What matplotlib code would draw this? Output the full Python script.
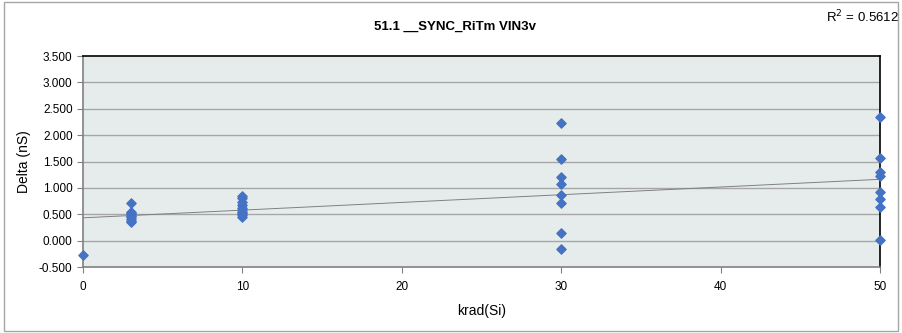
import numpy as np
from matplotlib import pyplot as plt

# krad(Si) dose levels and measured delta (nS)
x_0 = [0]
y_0 = [-0.27]
x_3 = [3] * 9
y_3 = [0.72, 0.55, 0.52, 0.50, 0.47, 0.45, 0.42, 0.38, 0.35]
x_10 = [10] * 10
y_10 = [0.85, 0.80, 0.74, 0.68, 0.62, 0.58, 0.55, 0.52, 0.48, 0.44]
x_30 = [30] * 8
y_30 = [2.23, 1.54, 1.21, 1.08, 0.87, 0.71, 0.15, -0.16]
x_50 = [50] * 8
y_50 = [2.35, 1.57, 1.30, 1.23, 0.93, 0.79, 0.63, 0.01]

y_ticks = [-0.5, 0.0, 0.5, 1.0, 1.5, 2.0, 2.5, 3.0, 3.5]
x_ticks = [0, 10, 20, 30, 40, 50]

title = "51.1 __SYNC_RiTm VIN3v"
r2_text = "R$^2$ = 0.5612"


def main():
    plt.rcParams['font.family'] = ['Liberation Sans', 'DejaVu Sans']
    xs = np.array(x_0 + x_3 + x_10 + x_30 + x_50, dtype=float)
    ys = np.array(y_0 + y_3 + y_10 + y_30 + y_50)

    fig = plt.figure(figsize=(9.03, 3.33), dpi=100)
    ax = fig.add_axes([0.0919, 0.198, 0.9745 - 0.0919, 0.8318 - 0.198])
    ax.set_facecolor('#E6ECEC')

    # outer chart border
    fig.patches.append(plt.Rectangle((0.004, 0.006), 0.99, 0.988, transform=fig.transFigure,
                                     fill=False, edgecolor='#A6A6A6', linewidth=1))

    for v in y_ticks[1:-1]:
        ax.axhline(v, color='#A6A6A6', linewidth=1, zorder=1)

    slope, intercept = np.polyfit(xs, ys, 1)
    tx = np.array([0, 50])
    ax.plot(tx, slope * tx + intercept, color='#808080', linewidth=0.7, zorder=2)

    ax.scatter(xs, ys, marker='D', s=22, color='#4472C4', zorder=3, clip_on=False)

    ax.set_xlim(0, 50)
    ax.set_ylim(-0.5, 3.5)
    ax.set_xticks(x_ticks)
    ax.set_yticks(y_ticks)
    ax.set_yticklabels(["%.3f" % v for v in y_ticks])
    ax.tick_params(labelsize=8.5, length=4, color='#808080')
    ax.tick_params(axis='x', pad=6)

    for side in ['left', 'bottom']:
        ax.spines[side].set_color('#808080')
        ax.spines[side].set_linewidth(1.2)
    for side in ['top', 'right']:
        ax.spines[side].set_color('#000000')
        ax.spines[side].set_linewidth(1.2)

    ax.set_xlabel("krad(Si)", fontsize=10, labelpad=8)
    ax.set_ylabel("Delta (nS)", fontsize=10, labelpad=6)

    fig.text(0.504, 0.919, title, ha='center', va='center', fontsize=9.5, fontweight='bold')
    fig.text(0.995, 0.95, r2_text, ha='right', va='center', fontsize=9.5)

    fig.savefig("out.png", dpi=100)


if __name__ == "__main__":
    main()
